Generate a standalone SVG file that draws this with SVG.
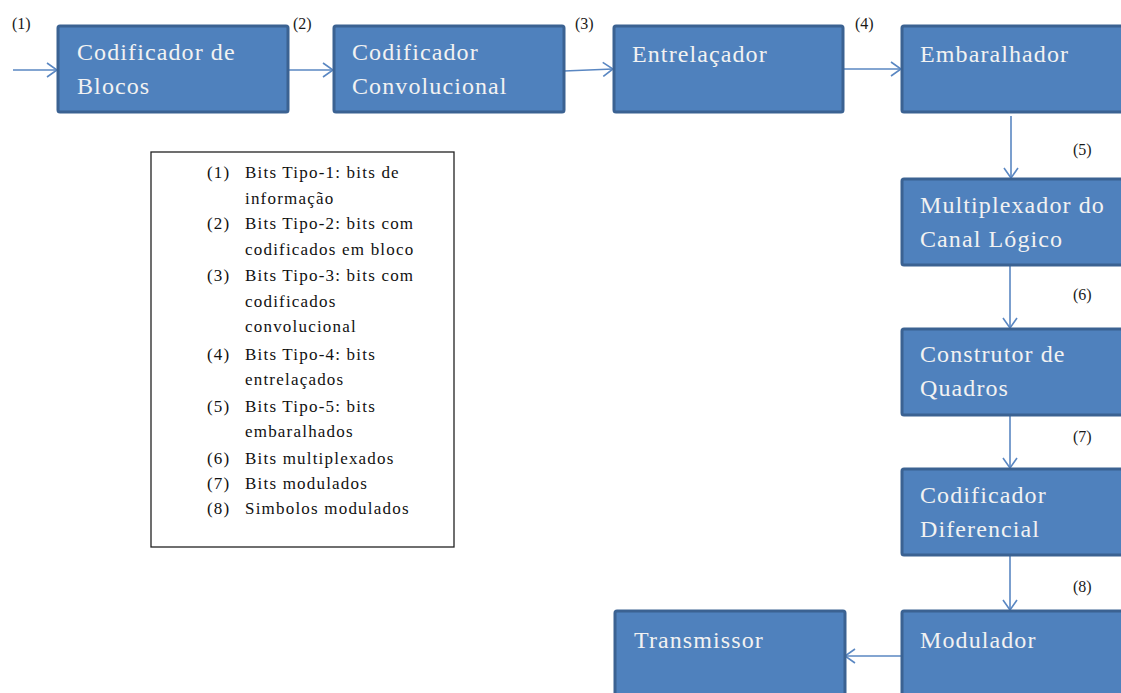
<svg xmlns="http://www.w3.org/2000/svg" width="1121" height="693" viewBox="0 0 1121 693">
<defs>
<style>
.box{fill:#4F81BD;stroke:#3B6292;stroke-width:3}
.bt{font-family:"Liberation Serif","Times New Roman",serif;font-size:24px;fill:#F2F2F2;letter-spacing:1.1px}
.num{font-family:"Liberation Serif","Times New Roman",serif;font-size:16px;fill:#1a1a1a}
.lg{font-family:"Liberation Serif","Times New Roman",serif;font-size:17px;fill:#111;letter-spacing:1.2px}
.conn{stroke:#5A87C2;stroke-width:1.6;fill:none;marker-end:url(#arr)}
</style>
<marker id="arr" viewBox="0 0 12 16" refX="11" refY="8" markerWidth="12" markerHeight="16" markerUnits="userSpaceOnUse" orient="auto">
<path d="M1,1 L11,8 L1,15" fill="none" stroke="#5A87C2" stroke-width="1.6"/>
</marker>
</defs>
<rect width="1121" height="693" fill="#fff"/>
<g id="connectors">
<line class="conn" x1="13" y1="70" x2="57" y2="70"/>
<line class="conn" x1="289" y1="70" x2="333" y2="70"/>
<line class="conn" x1="564" y1="71" x2="613" y2="69"/>
<line class="conn" x1="843" y1="69" x2="901" y2="69"/>
<line class="conn" x1="1011" y1="116" x2="1011" y2="178"/>
<line class="conn" x1="1010" y1="266" x2="1010" y2="328"/>
<line class="conn" x1="1010" y1="410" x2="1010" y2="468"/>
<line class="conn" x1="1010" y1="550" x2="1010" y2="610"/>
<line class="conn" x1="905" y1="656" x2="845" y2="656"/>
</g>
<g id="labels">
<text class="num" x="12" y="29">(1)</text>
<text class="num" x="293" y="29">(2)</text>
<text class="num" x="575" y="29">(3)</text>
<text class="num" x="855" y="29">(4)</text>
<text class="num" x="1073" y="155">(5)</text>
<text class="num" x="1073" y="300">(6)</text>
<text class="num" x="1073" y="442">(7)</text>
<text class="num" x="1073" y="592">(8)</text>
</g>
<g id="n1"><rect class="box" x="58" y="26" width="230" height="86" rx="2"/><text class="bt" x="77" y="60">Codificador de</text><text class="bt" x="77" y="94">Blocos</text></g>
<g id="n2"><rect class="box" x="334" y="26" width="230" height="86" rx="2"/><text class="bt" x="352" y="60">Codificador</text><text class="bt" x="352" y="94">Convolucional</text></g>
<g id="n3"><rect class="box" x="614" y="26" width="229" height="86" rx="2"/><text class="bt" x="632" y="62">Entrelaçador</text></g>
<g id="n4"><rect class="box" x="902" y="26" width="240" height="86" rx="2"/><text class="bt" x="920" y="62">Embaralhador</text></g>
<g id="n5"><rect class="box" x="902" y="179" width="240" height="86" rx="2"/><text class="bt" x="920" y="213">Multiplexador do</text><text class="bt" x="920" y="247">Canal Lógico</text></g>
<g id="n6"><rect class="box" x="902" y="329" width="240" height="86" rx="2"/><text class="bt" x="920" y="362">Construtor de</text><text class="bt" x="920" y="396">Quadros</text></g>
<g id="n7"><rect class="box" x="902" y="469" width="240" height="86" rx="2"/><text class="bt" x="920" y="503">Codificador</text><text class="bt" x="920" y="537">Diferencial</text></g>
<g id="n8"><rect class="box" x="902" y="611" width="240" height="100" rx="2"/><text class="bt" x="920" y="648">Modulador</text></g>
<g id="n9"><rect class="box" x="615" y="611" width="230" height="100" rx="2"/><text class="bt" x="634" y="648">Transmissor</text></g>
<g id="legend">
<rect x="151" y="152" width="303" height="395" fill="#fff" stroke="#222" stroke-width="1.3"/>
<text class="lg" x="207" y="178">(1)</text><text class="lg" x="245" y="178">Bits Tipo-1: bits de</text>
<text class="lg" x="245" y="204">informação</text>
<text class="lg" x="207" y="229">(2)</text><text class="lg" x="245" y="229">Bits Tipo-2: bits com</text>
<text class="lg" x="245" y="255">codificados em bloco</text>
<text class="lg" x="207" y="281">(3)</text><text class="lg" x="245" y="281">Bits Tipo-3: bits com</text>
<text class="lg" x="245" y="307">codificados</text>
<text class="lg" x="245" y="332">convolucional</text>
<text class="lg" x="207" y="360">(4)</text><text class="lg" x="245" y="360">Bits Tipo-4: bits</text>
<text class="lg" x="245" y="385">entrelaçados</text>
<text class="lg" x="207" y="412">(5)</text><text class="lg" x="245" y="412">Bits Tipo-5: bits</text>
<text class="lg" x="245" y="437">embaralhados</text>
<text class="lg" x="207" y="464">(6)</text><text class="lg" x="245" y="464">Bits multiplexados</text>
<text class="lg" x="207" y="489">(7)</text><text class="lg" x="245" y="489">Bits modulados</text>
<text class="lg" x="207" y="514">(8)</text><text class="lg" x="245" y="514">Simbolos modulados</text>
</g>
</svg>
